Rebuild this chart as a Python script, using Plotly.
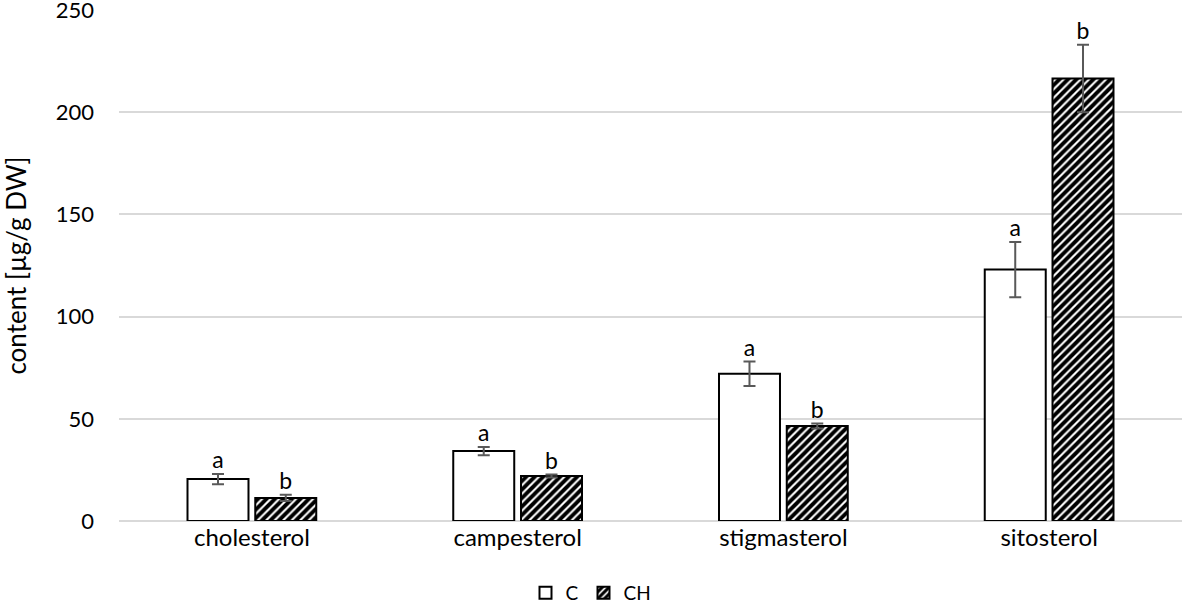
import plotly.graph_objects as go

categories = ["cholesterol", "campesterol", "stigmasterol", "sitosterol"]
c_values = [20.5, 34.2, 72.0, 123.0]
c_errors = [2.5, 2.0, 6.0, 13.5]
ch_values = [11.3, 22.0, 46.5, 216.5]
ch_errors = [1.5, 0.7, 1.2, 16.5]
c_letters = ["a", "a", "a", "a"]
ch_letters = ["b", "b", "b", "b"]

font_family = "Lato, 'Open Sans', sans-serif"
err_color = "#595959"

fig = go.Figure()
fig.add_trace(go.Bar(
    name="C", x=categories, y=c_values, offsetgroup="C",
    marker=dict(color="white", line=dict(color="black", width=2)),
    error_y=dict(type="data", array=c_errors, color=err_color, thickness=2, width=6),
))
fig.add_trace(go.Bar(
    name="CH", x=categories, y=ch_values, offsetgroup="CH",
    marker=dict(color="white", line=dict(color="black", width=2),
                pattern=dict(shape="/", fgcolor="black", fgopacity=1, bgcolor="white",
                             size=6, solidity=0.65)),
    error_y=dict(type="data", array=ch_errors, color=err_color, thickness=2, width=6),
))
fig.add_trace(go.Scatter(
    x=categories, y=[v + e for v, e in zip(c_values, c_errors)], offsetgroup="C",
    mode="text", text=c_letters, textposition="top center",
    textfont=dict(size=23, color="black", family=font_family),
    showlegend=False, hoverinfo="skip",
))
fig.add_trace(go.Scatter(
    x=categories, y=[v + e for v, e in zip(ch_values, ch_errors)], offsetgroup="CH",
    mode="text", text=ch_letters, textposition="top center",
    textfont=dict(size=23, color="black", family=font_family),
    showlegend=False, hoverinfo="skip",
))

fig.update_layout(
    width=1182, height=612,
    margin=dict(l=119, r=0, t=10, b=91, autoexpand=False),
    paper_bgcolor="white", plot_bgcolor="white",
    barmode="group", scattermode="group",
    bargap=0.49, bargroupgap=0.1,
    font=dict(family=font_family, color="black", size=18),
    showlegend=True,
    legend=dict(orientation="h", x=0.5, xanchor="center", xref="container",
                y=0.0, yanchor="bottom", yref="container",
                font=dict(size=19), itemwidth=30, traceorder="normal",
                tracegroupgap=0),
    xaxis=dict(showgrid=False, showline=False, ticks="", tickfont=dict(size=24),
               automargin=False),
    yaxis=dict(range=[0, 250], tickvals=[0, 50, 100, 150, 200, 250],
               showgrid=True, gridcolor="#d9d9d9", gridwidth=1.5,
               zeroline=True, zerolinecolor="#d9d9d9", zerolinewidth=1.5,
               tickfont=dict(size=22), ticks="", ticklen=0, ticklabelstandoff=24,
               ticklabeloverflow="allow", automargin=False,
               title=dict(text="content [µg/g DW]", font=dict(size=26), standoff=22)),
)

fig.write_html("out.html", config={"displayModeBar": False},
               post_script="document.body.style.margin='0';")
